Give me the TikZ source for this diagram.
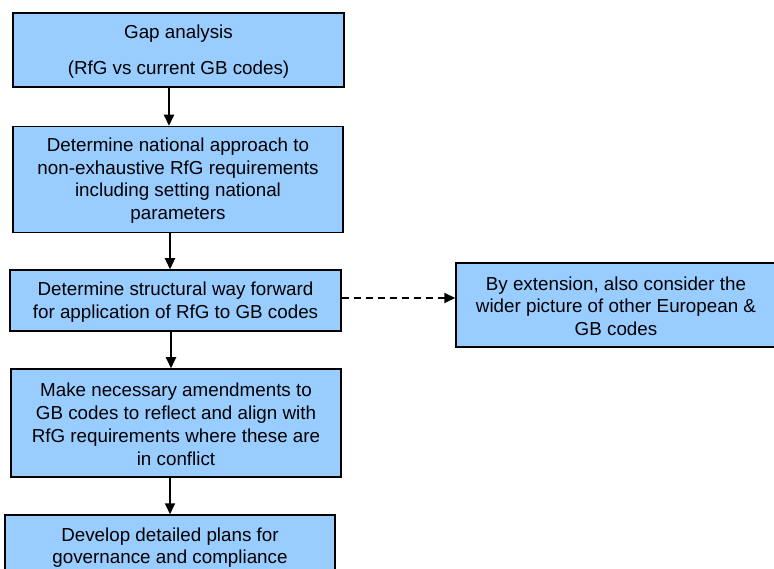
\documentclass[tikz,border=0pt]{standalone}
\usepackage{fontspec}
\setmainfont{Liberation Sans}
\usetikzlibrary{arrows.meta}
\definecolor{boxblue}{HTML}{99CCFF}
\tikzset{
  box/.style={draw=black, line width=1.5pt, fill=boxblue, align=center, inner sep=0pt,
    font=\fontsize{18.8}{22.8}\selectfont},
  arr/.style={line width=2pt, -{Triangle[length=11pt,width=10pt]}},
  darr/.style={arr, dash pattern=on 7pt off 5pt}
}
\begin{document}
\begin{tikzpicture}[x=1pt,y=-1pt]
\useasboundingbox (0,0) rectangle (774,569);
\begin{scope}
\clip (0,0) rectangle (774,569);
\node[box, minimum width=331pt, minimum height=74pt] (b1) at (178.5,50) {\rule{0pt}{17pt}Gap analysis\\[12.5pt](RfG vs current GB codes)};
\node[box, minimum width=330pt, minimum height=106pt] (b2) at (178,179.5) {\rule{0pt}{16pt}Determine national approach to\\non-exhaustive RfG requirements\\including setting national\\parameters};
\node[box, minimum width=331pt, minimum height=61pt] (b3) at (175.5,300.5) {\rule{0pt}{17pt}Determine structural way forward\\for application of RfG to GB codes};
\node[box, minimum width=320pt, minimum height=84pt] (b4) at (616,305) {\rule{0pt}{16pt}By extension, also consider the\\wider picture of other European \&\\GB codes};
\node[box, minimum width=330pt, minimum height=108pt] (b5) at (176,423) {\rule{0pt}{16pt}Make necessary amendments to\\GB codes to reflect and align with\\RfG requirements where these are\\in conflict};
\node[box, minimum width=330pt, minimum height=62pt] (b6) at (170,546) {\rule{0pt}{17pt}Develop detailed plans for\\governance and compliance};
\end{scope}
\draw[arr] (b1.south -| 169,0) -- (b2.north -| 169,0);
\draw[arr] (b2.south -| 170,0) -- (b3.north -| 170,0);
\draw[darr] (b3.east |- 0,298) -- (b4.west |- 0,298);
\draw[arr] (b3.south -| 171,0) -- (b5.north -| 171,0);
\draw[arr] (b5.south -| 170,0) -- (b6.north -| 170,0);
\end{tikzpicture}
\end{document}
